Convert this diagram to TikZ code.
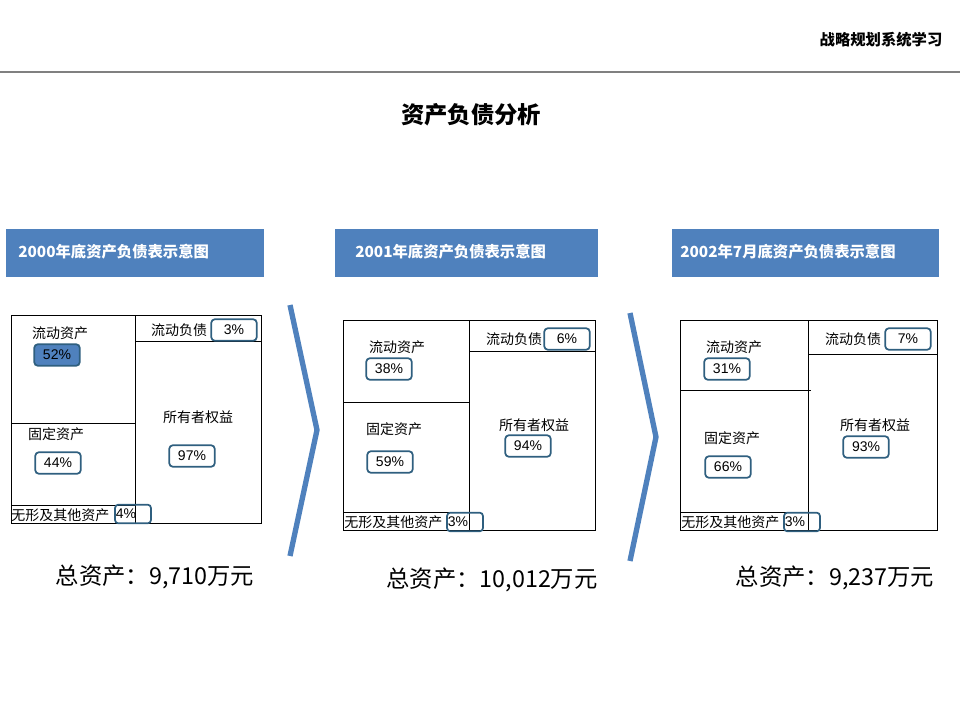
\documentclass[tikz,border=0pt]{standalone}
\usepackage{fontspec}
\setmainfont{Liberation Sans}
\newfontfamily\cjk{Noto Sans CJK SC}
\definecolor{hdr}{RGB}{79,129,189}
\definecolor{bdg}{RGB}{47,95,127}
\begin{document}
\begin{tikzpicture}[x=0.75pt,y=-0.75pt,
  lbl/.style={font=\cjk\fontsize{10.5}{12}\selectfont,inner sep=0pt},
  badge/.style={draw=bdg,line width=1.3pt,rounded corners=2.5pt,minimum width=34pt,minimum height=16pt,inner sep=0pt,font=\fontsize{10.5}{12}\selectfont},
  hbar/.style={fill=hdr,anchor=north west,inner sep=0pt},
  htxt/.style={font=\cjk\bfseries\fontsize{11.5}{13}\selectfont,text=white,anchor=west,inner sep=0pt},
  tot/.style={font=\cjk\fontsize{17.5}{20}\selectfont},
  box/.style={line width=0.7pt},
  chev/.style={draw=hdr,line width=4pt,line join=miter}]
\useasboundingbox (0,0) rectangle (960,720);
\node[font=\cjk\bfseries\fontsize{11.5}{13}\selectfont] (top) at (881,40) {战略规划系统学习};
\coordinate (la) at (0,72); \coordinate (lb) at (960,72);
\draw[gray,line width=0.8pt] (la) -- (lb);
\node[font=\cjk\bfseries\fontsize{17.5}{20}\selectfont] (title) at (471,115) {资产负债分析};
% headers
\node[hbar,minimum width=193.5pt,minimum height=36pt] (h1) at (6,229) {};
\node[htxt] (h1t) at (18,252) {2000年底资产负债表示意图};
\node[hbar,minimum width=197pt,minimum height=36pt] (h2) at (335,229) {};
\node[htxt] (h2t) at (355,252) {2001年底资产负债表示意图};
\node[hbar,minimum width=200pt,minimum height=36pt] (h3) at (672,229) {};
\node[htxt] (h3t) at (680,252) {2002年7月底资产负债表示意图};
% panel 1
\draw[box] (11,315) rectangle (261,523);
\draw[box] (135,315) -- (135,523) (11,423) -- (135,423) (11,505) -- (135,505) (135,341) -- (261,341);
\node[lbl] (p1a) at (60,333) {流动资产};
\node[lbl] (p1b) at (179,330) {流动负债};
\node[lbl] (p1c) at (198,417) {所有者权益};
\node[lbl] (p1d) at (56,434) {固定资产};
\node[lbl,anchor=west] (p1e) at (11,515) {无形及其他资产};
\node[badge,fill=hdr] (b1a) at (57,355) {52\%};
\node[badge] (b1b) at (234,330) {3\%};
\node[badge] (b1c) at (58,463) {44\%};
\node[badge] (b1d) at (192,456) {97\%};
\node[badge,minimum width=27pt,minimum height=14pt] (b1e) at (133,514) {};
\node[lbl,font=\fontsize{10.5}{12}\selectfont] (b1et) at (126,514) {4\%};
\node[tot] (t1) at (155,577) {总资产：9,710万元};
% chevron 1
\coordinate (c1a) at (290,305); \coordinate (c1b) at (317,430); \coordinate (c1c) at (290,556);
\draw[chev] (c1a) -- (c1b) -- (c1c);
% panel 2
\draw[box] (343,320) rectangle (595,530);
\draw[box] (469,320) -- (469,530) (343,402) -- (469,402) (343,512) -- (469,512) (469,351) -- (595,351);
\node[lbl] (p2a) at (397,347) {流动资产};
\node[lbl] (p2b) at (514,339) {流动负债};
\node[lbl] (p2c) at (534,425) {所有者权益};
\node[lbl] (p2d) at (394,429) {固定资产};
\node[lbl,anchor=west] (p2e) at (344,522) {无形及其他资产};
\node[badge] (b2a) at (389,369) {38\%};
\node[badge] (b2b) at (567,339) {6\%};
\node[badge] (b2c) at (390,462) {59\%};
\node[badge] (b2d) at (528,446) {94\%};
\node[badge,minimum width=27pt,minimum height=14pt] (b2e) at (465,522) {};
\node[lbl,font=\fontsize{10.5}{12}\selectfont] (b2et) at (458,522) {3\%};
\node[tot] (t2) at (492,580) {总资产：10,012万元};
% chevron 2
\coordinate (c2a) at (630,313); \coordinate (c2b) at (656,437); \coordinate (c2c) at (630,561);
\draw[chev] (c2a) -- (c2b) -- (c2c);
% panel 3
\draw[box] (680,320) rectangle (937,530);
\draw[box] (808,320) -- (808,530) (680,390) -- (811,390) (680,512) -- (808,512) (808,354) -- (937,354);
\node[lbl] (p3a) at (734,347) {流动资产};
\node[lbl] (p3b) at (853,339) {流动负债};
\node[lbl] (p3c) at (875,425) {所有者权益};
\node[lbl] (p3d) at (732,438) {固定资产};
\node[lbl,anchor=west] (p3e) at (681,522) {无形及其他资产};
\node[badge] (b3a) at (727,369) {31\%};
\node[badge] (b3b) at (908,339) {7\%};
\node[badge] (b3c) at (728,467) {66\%};
\node[badge] (b3d) at (866,447) {93\%};
\node[badge,minimum width=27pt,minimum height=14pt] (b3e) at (802,522) {};
\node[lbl,font=\fontsize{10.5}{12}\selectfont] (b3et) at (795,522) {3\%};
\node[tot] (t3) at (835,578) {总资产：9,237万元};
\end{tikzpicture}
\end{document}
